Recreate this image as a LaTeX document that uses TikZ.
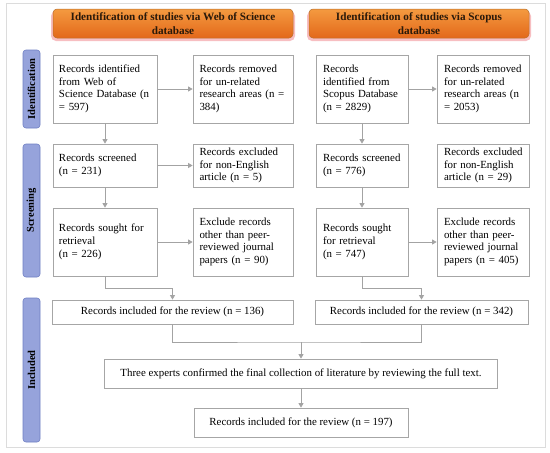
\documentclass[tikz,border=0pt]{standalone}
\usepackage{fontspec}
\setmainfont{Liberation Serif}
\usetikzlibrary{arrows.meta,calc}
\definecolor{boxgray}{HTML}{A6A6A6}
\definecolor{arrgray}{HTML}{A3A3A3}
\definecolor{framegray}{HTML}{DCDCDC}
\definecolor{orangetop}{HTML}{F49A40}
\definecolor{orangebot}{HTML}{E3681A}
\definecolor{orangeline}{HTML}{B8702E}
\definecolor{barfill}{HTML}{96A3DB}
\definecolor{barline}{HTML}{7080C4}
\definecolor{glow}{HTML}{F4A3A8}
\definecolor{headtext}{HTML}{2A1A0A}
\newcommand{\boxlines}[1]{\begin{tabular}{@{}l@{}}#1\end{tabular}}
\tikzset{
  txt/.style={font=\fontsize{10.9}{12.7}\selectfont},
  box/.style={txt, draw=boxgray, line width=0.8pt, fill=white, inner xsep=6pt, inner ysep=2pt, align=left},
  cbox/.style={txt, draw=boxgray, line width=0.8pt, fill=white, inner sep=2pt, align=center},
  header/.style={rounded corners=4pt, top color=orangetop, bottom color=orangebot, draw=orangeline, line width=0.5pt,
    align=center, text=headtext, font=\bfseries\fontsize{11.2}{14}\selectfont, inner sep=1pt},
  bar/.style={rounded corners=3pt, fill=barfill, draw=barline, line width=0.6pt, rotate=90,
    font=\bfseries\fontsize{10.5}{12}\selectfont, inner sep=1pt},
  conn/.style={draw=arrgray, line width=0.8pt},
  arr/.style={conn, -{Triangle[length=4.5pt,width=5pt]}}
}
\begin{document}
\begin{tikzpicture}[x=1pt,y=-1pt]
\useasboundingbox (0,0) rectangle (550,453);
\fill[white] (0,0) rectangle (550,453);
\draw[framegray, line width=0.8pt] (6,3) rectangle (545,447);
% header glows
\fill[glow, opacity=0.7, rounded corners=5pt] (51,11) rectangle (295,41);
\fill[glow, opacity=0.7, rounded corners=5pt] (307,11) rectangle (531,41);
% headers
\node[header, minimum width=240pt, minimum height=29pt] (H1) at (173,23.5)
  {Identification of studies via Web of Science\\database};
\node[header, minimum width=220pt, minimum height=29pt] (H2) at (419,23.5)
  {Identification of studies via Scopus\\database};
% side bars
\node[bar, minimum width=78pt, minimum height=17pt] (L1) at (31.5,89) {Identification};
\node[bar, minimum width=133pt, minimum height=17pt] (L2) at (31.5,210.5) {Screening};
\node[bar, minimum width=144pt, minimum height=17pt] (L3) at (31.5,370) {Included};
% left column
\node[box, text width=92pt, minimum height=68pt] (A1) at (105,89)
  {\boxlines{Records identified\\from Web of\\Science Database (n\\= 597)}};
\node[box, text width=87pt, minimum height=68pt, inner xsep=6.5pt] (A2) at (243,89)
  {\boxlines{Records removed\\for un-related\\research areas (n =\\384)}};
\node[box, text width=92pt, minimum height=43pt] (A3) at (105,165.5)
  {\boxlines{Records screened\\(n = 231)}};
\node[box, text width=87pt, minimum height=43pt, inner xsep=6.5pt] (A4) at (243,165.5)
  {\boxlines{Records excluded\\for non-English\\article (n = 5)}};
\node[box, text width=92pt, minimum height=68pt] (A5) at (105,242)
  {\boxlines{Records sought for\\retrieval\\(n = 226)}};
\node[box, text width=87pt, minimum height=68pt, inner xsep=6.5pt] (A6) at (243,242)
  {\boxlines{Exclude records\\other than peer-\\reviewed journal\\papers (n = 90)}};
% right column
\node[box, text width=78pt, minimum height=68pt, inner xsep=7pt] (B1) at (362,89)
  {\boxlines{Records\\identified from\\Scopus Database\\(n = 2829)}};
\node[box, text width=78pt, minimum height=68pt, inner xsep=7pt] (B2) at (483,89)
  {\boxlines{Records removed\\for un-related\\research areas (n\\= 2053)}};
\node[box, text width=78pt, minimum height=43pt, inner xsep=7pt] (B3) at (362,165.5)
  {\boxlines{Records screened\\(n = 776)}};
\node[box, text width=78pt, minimum height=43pt, inner xsep=7pt] (B4) at (483,165.5)
  {\boxlines{Records excluded\\for non-English\\article (n = 29)}};
\node[box, text width=78pt, minimum height=68pt, inner xsep=7pt] (B5) at (362,242)
  {\boxlines{Records sought\\for retrieval\\(n = 747)}};
\node[box, text width=78pt, minimum height=68pt, inner xsep=7pt] (B6) at (483,242)
  {\boxlines{Exclude records\\other than peer-\\reviewed journal\\papers (n = 405)}};
% included
\node[cbox, minimum width=241pt, minimum height=24pt] (C1) at (172.5,312)
  {Records included for the review (n = 136)};
\node[cbox, minimum width=213pt, minimum height=24pt] (C2) at (421.5,312)
  {Records included for the review (n = 342)};
\node[cbox, minimum width=393pt, minimum height=29pt] (D) at (301,373.5)
  {Three experts confirmed the final collection of literature by reviewing the full text.};
\node[cbox, minimum width=214pt, minimum height=29pt] (E) at (301,422.5)
  {Records included for the review (n = 197)};
% connectors
\draw[arr] (A1) -- (A2);
\draw[arr] (A1) -- (A3);
\draw[arr] (A3) -- (A4);
\draw[arr] (A3) -- (A5);
\draw[arr] (A5) -- (A6);
\draw[arr] (B1) -- (B2);
\draw[arr] (B1) -- (B3);
\draw[arr] (B3) -- (B5);
\draw[arr] (B5) -- (B6);
\draw[arr] (A5.south) -- ++(0,12) -| (C1.north);
\draw[arr] (B5.south) -- ++(0,12) -| (C2.north);
\coordinate (M) at (301,342);
\draw[conn] (C1.south) |- (M) -| (C2.south);
\draw[arr] (M) -- (D.north);
\draw[arr] (D) -- (E);
\end{tikzpicture}
\end{document}
